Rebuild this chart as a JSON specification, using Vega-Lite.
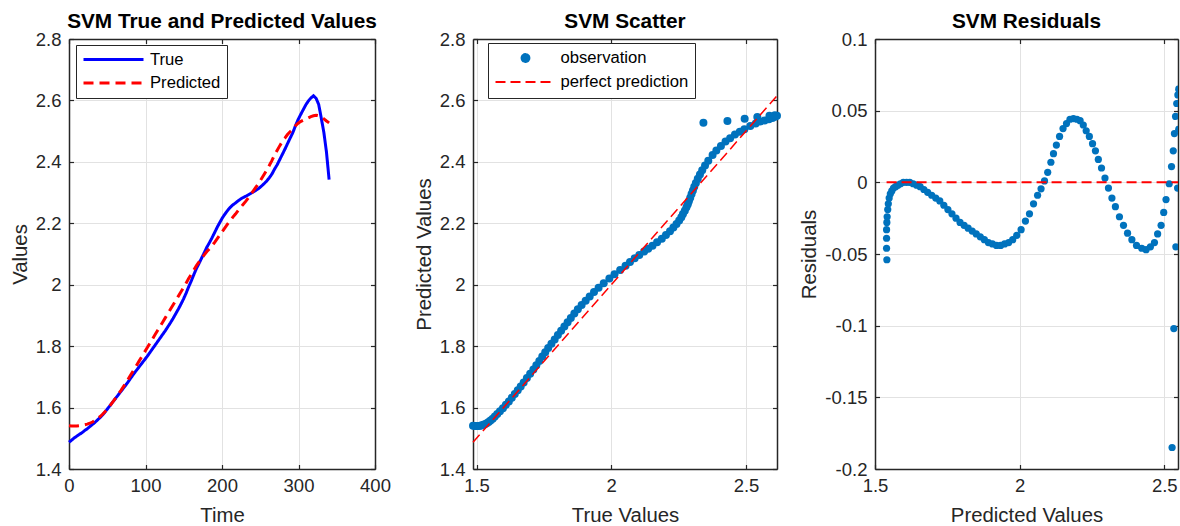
{
  "$schema": "https://vega.github.io/schema/vega-lite/v6.json",
  "padding": {"left": 10, "top": 11, "right": 0, "bottom": 0},
  "bounds": "flush",
  "spacing": 98,
  "resolve": {
    "scale": {"color": "independent", "strokeDash": "independent", "shape": "independent", "size": "independent"},
    "legend": {"color": "independent", "strokeDash": "independent", "shape": "independent", "size": "independent"}
  },
  "config": {
    "font": "Liberation Sans",
    "view": {"stroke": null},
    "axis": {
      "labelFont": "Liberation Sans", "labelFontSize": 18.5, "labelColor": "#262626",
      "titleFont": "Liberation Sans", "titleFontSize": 20.35, "titleFontWeight": "normal", "titleColor": "#262626",
      "domainColor": "#262626", "domainWidth": 1.5, "tickColor": "#262626", "tickWidth": 1.2, "tickSize": -4.5,
      "gridColor": "#e2e2e2", "gridWidth": 1, "labelFlush": false, "labelOverlap": false
    },
    "axisX": {"labelPadding": 11.5, "titlePadding": 11},
    "axisY": {"labelPadding": 12.5, "titlePadding": 5},
    "title": {"font": "Liberation Sans", "fontSize": 20.8, "fontWeight": "bold", "color": "#000000", "baseline": "alphabetic", "frame": "group", "offset": -3, "anchor": "middle"},
    "legend": {"labelFont": "Liberation Sans", "labelFontSize": 16.65, "labelColor": "#000000"}
  },
  "datasets": {
    "svm": [
      {"t": 0, "True": 1.487, "Predicted": 1.541, "Residual": -0.054},
      {"t": 3.4, "True": 1.494, "Predicted": 1.540, "Residual": -0.046},
      {"t": 6.8, "True": 1.501, "Predicted": 1.540, "Residual": -0.039},
      {"t": 10.2, "True": 1.507, "Predicted": 1.540, "Residual": -0.033},
      {"t": 13.6, "True": 1.513, "Predicted": 1.541, "Residual": -0.028},
      {"t": 17, "True": 1.518, "Predicted": 1.542, "Residual": -0.024},
      {"t": 20.4, "True": 1.525, "Predicted": 1.544, "Residual": -0.019},
      {"t": 23.8, "True": 1.531, "Predicted": 1.546, "Residual": -0.015},
      {"t": 27.2, "True": 1.538, "Predicted": 1.549, "Residual": -0.011},
      {"t": 30.6, "True": 1.545, "Predicted": 1.553, "Residual": -0.008},
      {"t": 34, "True": 1.552, "Predicted": 1.558, "Residual": -0.006},
      {"t": 37.4, "True": 1.560, "Predicted": 1.564, "Residual": -0.004},
      {"t": 40.8, "True": 1.568, "Predicted": 1.571, "Residual": -0.003},
      {"t": 44.2, "True": 1.577, "Predicted": 1.579, "Residual": -0.002},
      {"t": 47.6, "True": 1.587, "Predicted": 1.588, "Residual": -0.001},
      {"t": 51, "True": 1.598, "Predicted": 1.598, "Residual": 0.0},
      {"t": 54.4, "True": 1.609, "Predicted": 1.609, "Residual": 0.0},
      {"t": 57.8, "True": 1.620, "Predicted": 1.620, "Residual": 0.0},
      {"t": 61.2, "True": 1.631, "Predicted": 1.632, "Residual": -0.001},
      {"t": 64.6, "True": 1.642, "Predicted": 1.644, "Residual": -0.002},
      {"t": 68, "True": 1.653, "Predicted": 1.656, "Residual": -0.003},
      {"t": 71.4, "True": 1.664, "Predicted": 1.669, "Residual": -0.005},
      {"t": 74.8, "True": 1.675, "Predicted": 1.682, "Residual": -0.007},
      {"t": 78.2, "True": 1.687, "Predicted": 1.696, "Residual": -0.009},
      {"t": 81.6, "True": 1.699, "Predicted": 1.710, "Residual": -0.011},
      {"t": 85, "True": 1.711, "Predicted": 1.724, "Residual": -0.013},
      {"t": 88.4, "True": 1.722, "Predicted": 1.738, "Residual": -0.016},
      {"t": 91.8, "True": 1.733, "Predicted": 1.752, "Residual": -0.019},
      {"t": 95.2, "True": 1.744, "Predicted": 1.766, "Residual": -0.022},
      {"t": 98.6, "True": 1.755, "Predicted": 1.780, "Residual": -0.025},
      {"t": 102, "True": 1.766, "Predicted": 1.794, "Residual": -0.028},
      {"t": 105.4, "True": 1.778, "Predicted": 1.808, "Residual": -0.030},
      {"t": 108.8, "True": 1.790, "Predicted": 1.822, "Residual": -0.032},
      {"t": 112.2, "True": 1.802, "Predicted": 1.836, "Residual": -0.034},
      {"t": 115.6, "True": 1.814, "Predicted": 1.850, "Residual": -0.036},
      {"t": 119, "True": 1.826, "Predicted": 1.864, "Residual": -0.038},
      {"t": 122.4, "True": 1.838, "Predicted": 1.878, "Residual": -0.040},
      {"t": 125.8, "True": 1.850, "Predicted": 1.892, "Residual": -0.042},
      {"t": 129.2, "True": 1.863, "Predicted": 1.906, "Residual": -0.043},
      {"t": 132.6, "True": 1.876, "Predicted": 1.920, "Residual": -0.044},
      {"t": 136, "True": 1.890, "Predicted": 1.934, "Residual": -0.044},
      {"t": 139.4, "True": 1.905, "Predicted": 1.948, "Residual": -0.043},
      {"t": 142.8, "True": 1.920, "Predicted": 1.962, "Residual": -0.042},
      {"t": 146.2, "True": 1.936, "Predicted": 1.976, "Residual": -0.040},
      {"t": 149.6, "True": 1.953, "Predicted": 1.990, "Residual": -0.037},
      {"t": 153, "True": 1.972, "Predicted": 2.005, "Residual": -0.033},
      {"t": 156.4, "True": 1.993, "Predicted": 2.020, "Residual": -0.027},
      {"t": 159.8, "True": 2.012, "Predicted": 2.034, "Residual": -0.022},
      {"t": 163.2, "True": 2.033, "Predicted": 2.048, "Residual": -0.015},
      {"t": 166.6, "True": 2.053, "Predicted": 2.062, "Residual": -0.009},
      {"t": 170, "True": 2.0695, "Predicted": 2.074, "Residual": -0.0045},
      {"t": 173.4, "True": 2.087, "Predicted": 2.086, "Residual": 0.001},
      {"t": 176.8, "True": 2.104, "Predicted": 2.097, "Residual": 0.007},
      {"t": 180.2, "True": 2.122, "Predicted": 2.108, "Residual": 0.014},
      {"t": 183.6, "True": 2.137, "Predicted": 2.117, "Residual": 0.020},
      {"t": 187, "True": 2.153, "Predicted": 2.127, "Residual": 0.026},
      {"t": 190.4, "True": 2.170, "Predicted": 2.138, "Residual": 0.032},
      {"t": 193.8, "True": 2.1875, "Predicted": 2.150, "Residual": 0.0375},
      {"t": 197.2, "True": 2.203, "Predicted": 2.162, "Residual": 0.041},
      {"t": 200.6, "True": 2.218, "Predicted": 2.174, "Residual": 0.044},
      {"t": 204, "True": 2.2305, "Predicted": 2.186, "Residual": 0.0445},
      {"t": 207.4, "True": 2.242, "Predicted": 2.198, "Residual": 0.044},
      {"t": 210.8, "True": 2.252, "Predicted": 2.209, "Residual": 0.043},
      {"t": 214.2, "True": 2.260, "Predicted": 2.220, "Residual": 0.040},
      {"t": 217.6, "True": 2.266, "Predicted": 2.230, "Residual": 0.036},
      {"t": 221, "True": 2.273, "Predicted": 2.241, "Residual": 0.032},
      {"t": 224.4, "True": 2.279, "Predicted": 2.252, "Residual": 0.027},
      {"t": 227.8, "True": 2.284, "Predicted": 2.262, "Residual": 0.022},
      {"t": 231.2, "True": 2.288, "Predicted": 2.272, "Residual": 0.016},
      {"t": 234.6, "True": 2.293, "Predicted": 2.283, "Residual": 0.010},
      {"t": 238, "True": 2.298, "Predicted": 2.295, "Residual": 0.003},
      {"t": 241.4, "True": 2.303, "Predicted": 2.307, "Residual": -0.004},
      {"t": 244.8, "True": 2.308, "Predicted": 2.319, "Residual": -0.011},
      {"t": 248.2, "True": 2.314, "Predicted": 2.331, "Residual": -0.017},
      {"t": 251.6, "True": 2.321, "Predicted": 2.345, "Residual": -0.024},
      {"t": 255, "True": 2.329, "Predicted": 2.359, "Residual": -0.030},
      {"t": 258.4, "True": 2.3375, "Predicted": 2.373, "Residual": -0.0355},
      {"t": 261.8, "True": 2.348, "Predicted": 2.388, "Residual": -0.040},
      {"t": 265.2, "True": 2.360, "Predicted": 2.404, "Residual": -0.044},
      {"t": 268.6, "True": 2.376, "Predicted": 2.422, "Residual": -0.046},
      {"t": 272, "True": 2.390, "Predicted": 2.437, "Residual": -0.047},
      {"t": 275.4, "True": 2.407, "Predicted": 2.452, "Residual": -0.045},
      {"t": 278.8, "True": 2.424, "Predicted": 2.466, "Residual": -0.042},
      {"t": 282.2, "True": 2.441, "Predicted": 2.477, "Residual": -0.036},
      {"t": 285.6, "True": 2.459, "Predicted": 2.489, "Residual": -0.030},
      {"t": 289, "True": 2.477, "Predicted": 2.498, "Residual": -0.021},
      {"t": 292.4, "True": 2.494, "Predicted": 2.506, "Residual": -0.012},
      {"t": 295.8, "True": 2.516, "Predicted": 2.517, "Residual": -0.001},
      {"t": 299.2, "True": 2.536, "Predicted": 2.525, "Residual": 0.011},
      {"t": 302.6, "True": 2.553, "Predicted": 2.531, "Residual": 0.022},
      {"t": 306, "True": 2.569, "Predicted": 2.535, "Residual": 0.034},
      {"t": 309.4, "True": 2.585, "Predicted": 2.539, "Residual": 0.046},
      {"t": 312.8, "True": 2.598, "Predicted": 2.543, "Residual": 0.055},
      {"t": 316.2, "True": 2.608, "Predicted": 2.547, "Residual": 0.061},
      {"t": 319.6, "True": 2.615, "Predicted": 2.550, "Residual": 0.065},
      {"t": 323, "True": 2.607, "Predicted": 2.552, "Residual": 0.055},
      {"t": 326.4, "True": 2.587, "Predicted": 2.550, "Residual": 0.037},
      {"t": 329.8, "True": 2.542, "Predicted": 2.546, "Residual": -0.004},
      {"t": 333.2, "True": 2.495, "Predicted": 2.540, "Residual": -0.045},
      {"t": 336.6, "True": 2.431, "Predicted": 2.533, "Residual": -0.102},
      {"t": 340, "True": 2.342, "Predicted": 2.527, "Residual": -0.185}
    ],
    "diag": [
      {"x": 1.487, "y": 1.487},
      {"x": 2.615, "y": 2.615}
    ],
    "zero": [
      {"x": 1.540, "y": 0},
      {"x": 2.552, "y": 0}
    ]
  },
  "hconcat": [
    {
      "width": 306,
      "height": 430,
      "title": "SVM True and Predicted Values",
      "data": {"name": "svm"},
      "layer": [
        {
          "mark": {"type": "line", "strokeWidth": 3},
          "encoding": {
            "x": {"field": "t", "type": "quantitative", "scale": {"domain": [0, 400], "nice": false, "zero": false},
                  "axis": {"orient": "bottom", "title": "Time", "values": [0, 100, 200, 300, 400], "grid": true, "labelExpr": "'' + datum.value"}},
            "y": {"field": "True", "type": "quantitative", "scale": {"domain": [1.4, 2.8], "nice": false, "zero": false},
                  "axis": {"orient": "left", "title": "Values", "values": [1.4, 1.6, 1.8, 2, 2.2, 2.4, 2.6, 2.8], "grid": true, "labelExpr": "'' + datum.value"}},
            "color": {"datum": "True", "type": "nominal",
                      "scale": {"domain": ["True", "Predicted"], "range": ["#0000ff", "#ff0000"]},
                      "legend": {"title": null, "orient": "none", "legendX": 7, "legendY": 6,
                                 "symbolType": "stroke", "symbolSize": 3600, "symbolStrokeWidth": 3,
                                 "clipHeight": 17, "rowPadding": 5.5, "padding": 6, "labelOffset": 5,
                                 "strokeColor": "#262626", "fillColor": "#ffffff"}},
            "strokeDash": {"datum": "True", "type": "nominal",
                      "scale": {"domain": ["True", "Predicted"], "range": [[1, 0], [10, 6]]},
                      "legend": {"title": null, "orient": "none", "legendX": 7, "legendY": 6,
                                 "symbolType": "stroke", "symbolSize": 3600, "symbolStrokeWidth": 3,
                                 "clipHeight": 17, "rowPadding": 5.5, "padding": 6, "labelOffset": 5,
                                 "strokeColor": "#262626", "fillColor": "#ffffff"}}
          }
        },
        {
          "mark": {"type": "line", "strokeWidth": 3},
          "encoding": {
            "x": {"field": "t", "type": "quantitative", "axis": null},
            "y": {"field": "Predicted", "type": "quantitative", "axis": null},
            "color": {"datum": "Predicted", "type": "nominal"},
            "strokeDash": {"datum": "Predicted", "type": "nominal"}
          }
        },
        {
          "mark": {"type": "point", "opacity": 0},
          "encoding": {
            "x": {"field": "t", "type": "quantitative", "axis": {"orient": "top", "title": null, "labels": false, "grid": false, "values": [0, 100, 200, 300, 400]}},
            "y": {"field": "True", "type": "quantitative", "axis": {"orient": "right", "title": null, "labels": false, "grid": false, "values": [1.4, 1.6, 1.8, 2, 2.2, 2.4, 2.6, 2.8]}}
          }
        }
      ],
      "resolve": {"axis": {"x": "independent", "y": "independent"}}
    },
    {
      "width": 304,
      "height": 430,
      "title": "SVM Scatter",
      "data": {"name": "svm"},
      "layer": [
        {
          "mark": {"type": "point", "filled": true, "opacity": 1},
          "encoding": {
            "x": {"field": "True", "type": "quantitative", "scale": {"domain": [1.487, 2.615], "nice": false, "zero": false},
                  "axis": {"orient": "bottom", "title": "True Values", "values": [1.5, 2, 2.5], "grid": true, "labelExpr": "'' + datum.value"}},
            "y": {"field": "Predicted", "type": "quantitative", "scale": {"domain": [1.4, 2.8], "nice": false, "zero": false},
                  "axis": {"orient": "left", "title": "Predicted Values", "values": [1.4, 1.6, 1.8, 2, 2.2, 2.4, 2.6, 2.8], "grid": true, "labelExpr": "'' + datum.value"}},
            "color": {"datum": "observation", "type": "nominal",
                      "scale": {"domain": ["observation", "perfect prediction"], "range": ["#0072BD", "#ff0000"]},
                      "legend": {"title": null, "orient": "none", "legendX": 15, "legendY": 4,
                                 "symbolStrokeWidth": 1.8, "clipHeight": 17, "rowPadding": 6, "padding": 6.5, "labelOffset": 4,
                                 "strokeColor": "#262626", "fillColor": "#ffffff"}},
            "shape": {"datum": "observation", "type": "nominal",
                      "scale": {"domain": ["observation", "perfect prediction"], "range": ["circle", "stroke"]},
                      "legend": {"title": null, "orient": "none", "legendX": 15, "legendY": 4,
                                 "symbolStrokeWidth": 1.8, "clipHeight": 17, "rowPadding": 6, "padding": 6.5, "labelOffset": 4,
                                 "strokeColor": "#262626", "fillColor": "#ffffff"}},
            "size": {"datum": "observation", "type": "nominal",
                      "scale": {"domain": ["observation", "perfect prediction"], "range": [64, 3600]},
                      "legend": {"title": null, "orient": "none", "legendX": 15, "legendY": 4,
                                 "symbolStrokeWidth": 1.8, "clipHeight": 17, "rowPadding": 6, "padding": 6.5, "labelOffset": 4,
                                 "strokeColor": "#262626", "fillColor": "#ffffff"}}
          }
        },
        {
          "data": {"name": "diag"},
          "mark": {"type": "line", "strokeWidth": 1.5},
          "encoding": {
            "x": {"field": "x", "type": "quantitative", "axis": null},
            "y": {"field": "y", "type": "quantitative", "axis": null},
            "color": {"datum": "perfect prediction", "type": "nominal"},
            "strokeDash": {"datum": "perfect prediction", "type": "nominal",
                      "scale": {"domain": ["observation", "perfect prediction"], "range": [[1, 0], [10, 5]]},
                      "legend": {"title": null, "orient": "none", "legendX": 15, "legendY": 4,
                                 "symbolStrokeWidth": 1.8, "clipHeight": 17, "rowPadding": 6, "padding": 6.5, "labelOffset": 4,
                                 "strokeColor": "#262626", "fillColor": "#ffffff"}}
          }
        },
        {
          "mark": {"type": "point", "opacity": 0},
          "encoding": {
            "x": {"field": "True", "type": "quantitative", "axis": {"orient": "top", "title": null, "labels": false, "grid": false, "values": [1.5, 2, 2.5]}},
            "y": {"field": "Predicted", "type": "quantitative", "axis": {"orient": "right", "title": null, "labels": false, "grid": false, "values": [1.4, 1.6, 1.8, 2, 2.2, 2.4, 2.6, 2.8]}}
          }
        }
      ],
      "resolve": {"axis": {"x": "independent", "y": "independent"}}
    },
    {
      "width": 303,
      "height": 430,
      "title": "SVM Residuals",
      "data": {"name": "svm"},
      "layer": [
        {
          "mark": {"type": "point", "filled": true, "size": 52, "opacity": 1, "color": "#0072BD", "clip": true},
          "encoding": {
            "x": {"field": "Predicted", "type": "quantitative", "scale": {"domain": [1.5, 2.5474], "nice": false, "zero": false},
                  "axis": {"orient": "bottom", "title": "Predicted Values", "values": [1.5, 2, 2.5], "grid": true, "labelExpr": "'' + datum.value"}},
            "y": {"field": "Residual", "type": "quantitative", "scale": {"domain": [-0.2, 0.1], "nice": false, "zero": false},
                  "axis": {"orient": "left", "title": "Residuals", "values": [-0.2, -0.15, -0.1, -0.05, 0, 0.05, 0.1], "grid": true, "labelExpr": "'' + datum.value"}}
          }
        },
        {
          "data": {"name": "zero"},
          "mark": {"type": "line", "strokeWidth": 2, "strokeDash": [10, 5], "color": "#ff0000", "clip": true},
          "encoding": {
            "x": {"field": "x", "type": "quantitative", "axis": null},
            "y": {"field": "y", "type": "quantitative", "axis": null}
          }
        },
        {
          "mark": {"type": "point", "opacity": 0},
          "encoding": {
            "x": {"field": "Predicted", "type": "quantitative", "axis": {"orient": "top", "title": null, "labels": false, "grid": false, "values": [1.5, 2, 2.5]}},
            "y": {"field": "Residual", "type": "quantitative", "axis": {"orient": "right", "title": null, "labels": false, "grid": false, "values": [-0.2, -0.15, -0.1, -0.05, 0, 0.05, 0.1]}}
          }
        }
      ],
      "resolve": {"axis": {"x": "independent", "y": "independent"}}
    }
  ]
}
